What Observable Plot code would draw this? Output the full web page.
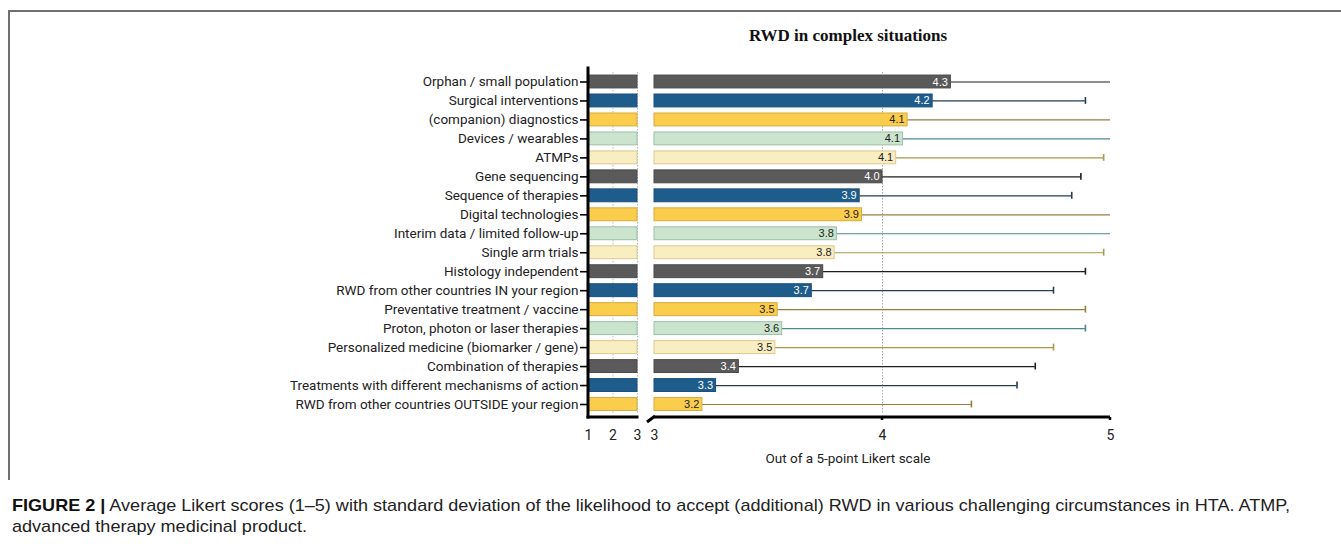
<!DOCTYPE html>
<html><head><meta charset="utf-8">
<script src="https://cdn.jsdelivr.net/npm/d3@7"></script>
<script src="https://cdn.jsdelivr.net/npm/@observablehq/plot@0.6"></script>
<style>
html,body{margin:0;padding:0;background:#fff;}
#fig{position:relative;width:1341px;height:552px;overflow:hidden;background:#fff;}
#frame{position:absolute;left:8px;top:10px;width:1340px;height:468px;border-top:2px solid #707070;border-left:2px solid #707070;}
#title{position:absolute;left:648px;width:400px;top:26px;text-align:center;font:bold 17px "Liberation Serif";color:#111;}
#left{position:absolute;top:0;left:0;width:645px;height:480px;}
#right{position:absolute;top:0;left:645px;width:696px;height:480px;}
#xlabel{position:absolute;left:648px;width:400px;top:450px;text-align:center;font:13.5px Roboto;color:#222;}
#caption{position:absolute;left:12px;top:495px;font:17px "Liberation Sans";line-height:21px;color:#222;transform-origin:0 0;white-space:nowrap;}
#caption b{font-weight:bold;color:#111;}
</style></head>
<body>
<div id="fig">
  <div id="left"></div>
  <div id="right"></div>
  <div id="frame"></div>
  <div id="title">RWD in complex situations</div>
  <div id="xlabel">Out of a 5-point Likert scale</div>
  <div id="caption"><span id="cap1"><b>FIGURE 2 |</b> Average Likert scores (1–5) with standard deviation of the likelihood to accept (additional) RWD in various challenging circumstances in HTA. ATMP,</span><br>advanced therapy medicinal product.</div>
</div>
<script>
const categories = [
  "Orphan / small population",
  "Surgical interventions",
  "(companion) diagnostics",
  "Devices / wearables",
  "ATMPs",
  "Gene sequencing",
  "Sequence of therapies",
  "Digital technologies",
  "Interim data / limited follow-up",
  "Single arm trials",
  "Histology independent",
  "RWD from other countries IN your region",
  "Preventative treatment / vaccine",
  "Proton, photon or laser therapies",
  "Personalized medicine (biomarker / gene)",
  "Combination of therapies",
  "Treatments with different mechanisms of action",
  "RWD from other countries OUTSIDE your region"
];
const means = [4.30,4.22,4.11,4.09,4.06,4.00,3.90,3.91,3.80,3.79,3.74,3.69,3.54,3.56,3.53,3.37,3.27,3.21];
const meanLabels = ["4.3","4.2","4.1","4.1","4.1","4.0","3.9","3.9","3.8","3.8","3.7","3.7","3.5","3.6","3.5","3.4","3.3","3.2"];
const sds = [0.95,0.67,0.95,0.98,0.91,0.87,0.93,1.12,1.25,1.18,1.15,1.06,1.35,1.33,1.22,1.30,1.32,1.18];
const groups = ["dark","blue","yellow","green","cream","dark","blue","yellow","green","cream","dark","blue","yellow","green","cream","dark","blue","yellow"];
const leftTicks = [1,2,3];
const rightTicks = [3,4,5];

const fillC = {dark:"#5a5a5a", blue:"#1e5c8c", yellow:"#fbcd4c", green:"#cbe4cd", cream:"#f9edc2"};
const strokeC = {dark:"#4b4b4b", blue:"#1a5080", yellow:"#d6ab3c", green:"#9cc0a8", cream:"#dcc98c"};
const errC = {dark:"#1e1e1e", blue:"#253c52", yellow:"#9a7d3c", green:"#4e8790", cream:"#a99a45"};
const textC = {dark:"#ffffff", blue:"#ffffff", yellow:"#222222", green:"#222222", cream:"#222222"};

const rows = categories.map((name, i) => ({name, mean: means[i], sd: sds[i], group: groups[i], label: meanLabels[i]}));

const H = 480, MT = 72, MB = 66.5;
const yOpts = {domain: categories, paddingInner: 0.32, paddingOuter: 0.16, round: false, label: null};

function pick(args) {
  const scales = args.find(a => a && typeof a.x === "function");
  const dims = args.find(a => a && a.marginBottom !== undefined && a.height !== undefined);
  return {scales, dims};
}
function leftAxes(...args) {
  const {scales, dims} = pick(args);
  const x = scales.x;
  const yb = dims.height - dims.marginBottom + 3.5;
  const g = d3.create("svg:g").attr("stroke", "#000").attr("stroke-width", 3).attr("stroke-linecap", "square");
  g.append("line").attr("x1", x(1)).attr("x2", x(1)).attr("y1", dims.marginTop - 4).attr("y2", yb);
  g.append("line").attr("x1", x(1)).attr("x2", x(3)).attr("y1", yb).attr("y2", yb);
  return g.node();
}
function rightAxes(...args) {
  const {scales, dims} = pick(args);
  const x = scales.x;
  const yb = dims.height - dims.marginBottom + 3.5;
  const g = d3.create("svg:g").attr("stroke", "#000").attr("stroke-width", 3);
  g.append("line").attr("x1", x(3)).attr("x2", x(5)).attr("y1", yb).attr("y2", yb);
  for (const t of [4, 5]) g.append("line").attr("x1", x(t)).attr("x2", x(t)).attr("y1", yb).attr("y2", yb + 3).attr("stroke-width", 2.5);
  g.append("line").attr("x1", x(3) - 7).attr("x2", x(3) + 1).attr("y1", yb + 5).attr("y2", yb - 1).attr("stroke-width", 3);
  return g.node();
}

const leftPlot = Plot.plot({
  width: 645, height: H,
  marginLeft: 588, marginRight: 8, marginTop: MT, marginBottom: MB,
  x: {domain: [1, 3], label: null},
  y: yOpts,
  color: {type: "identity"},
  style: {fontFamily: "Roboto", fontSize: "13.5px", color: "#222", background: "transparent"},
  marks: [
    Plot.gridX([2, 3], {stroke: "#b8b8b8", strokeOpacity: 1, strokeDasharray: "1.5,1.5"}),
    Plot.barX(rows, {x1: 1, x2: 3, y: "name", fill: d => fillC[d.group], stroke: d => strokeC[d.group], strokeWidth: 1}),
    Plot.axisY({tickSize: 8, tickPadding: 2, stroke: "#000", strokeWidth: 1.6, fill: "#222", fontSize: 13.5}),
    Plot.axisX({ticks: leftTicks, tickSize: 0, tickPadding: 16, tickFormat: d => String(d), fontSize: 14, fill: "#222"}),
    leftAxes
  ]
});
document.getElementById("left").appendChild(leftPlot);

const capRows = rows.filter(d => d.mean + d.sd < 5);
const rightPlot = Plot.plot({
  width: 696, height: H,
  marginLeft: 9, marginRight: 231, marginTop: MT, marginBottom: MB,
  x: {domain: [3, 5], clamp: true, label: null},
  y: {...yOpts, axis: null},
  color: {type: "identity"},
  style: {fontFamily: "Roboto", fontSize: "13px", color: "#222", background: "transparent"},
  marks: [
    Plot.gridX([4], {stroke: "#a8a8a8", strokeOpacity: 1, strokeDasharray: "1.5,1.5"}),
    Plot.ruleY(rows, {y: "name", x1: "mean", x2: d => d.mean + d.sd, stroke: d => errC[d.group], strokeWidth: 1.2}),
    Plot.tickX(capRows, {x: d => d.mean + d.sd, y: "name", stroke: d => errC[d.group], strokeWidth: 1.6, insetTop: 3, insetBottom: 3}),
    Plot.barX(rows, {x1: 3, x2: "mean", y: "name", fill: d => fillC[d.group], stroke: d => strokeC[d.group], strokeWidth: 1}),
    Plot.text(rows, {x: "mean", y: "name", text: "label", textAnchor: "end", dx: -3, fill: d => textC[d.group], fontSize: 11, fontFamily: "Liberation Sans"}),
    Plot.axisX({ticks: rightTicks, tickSize: 0, tickPadding: 16, tickFormat: d => String(d), fontSize: 14, fill: "#222"}),
    rightAxes
  ]
});
document.getElementById("right").appendChild(rightPlot);

// fit caption's first line to the reference width
const cap = document.getElementById("caption");
const w1 = document.getElementById("cap1").getBoundingClientRect().width;
cap.style.transform = `scaleX(${1278 / w1})`;
</script>
</body></html>
